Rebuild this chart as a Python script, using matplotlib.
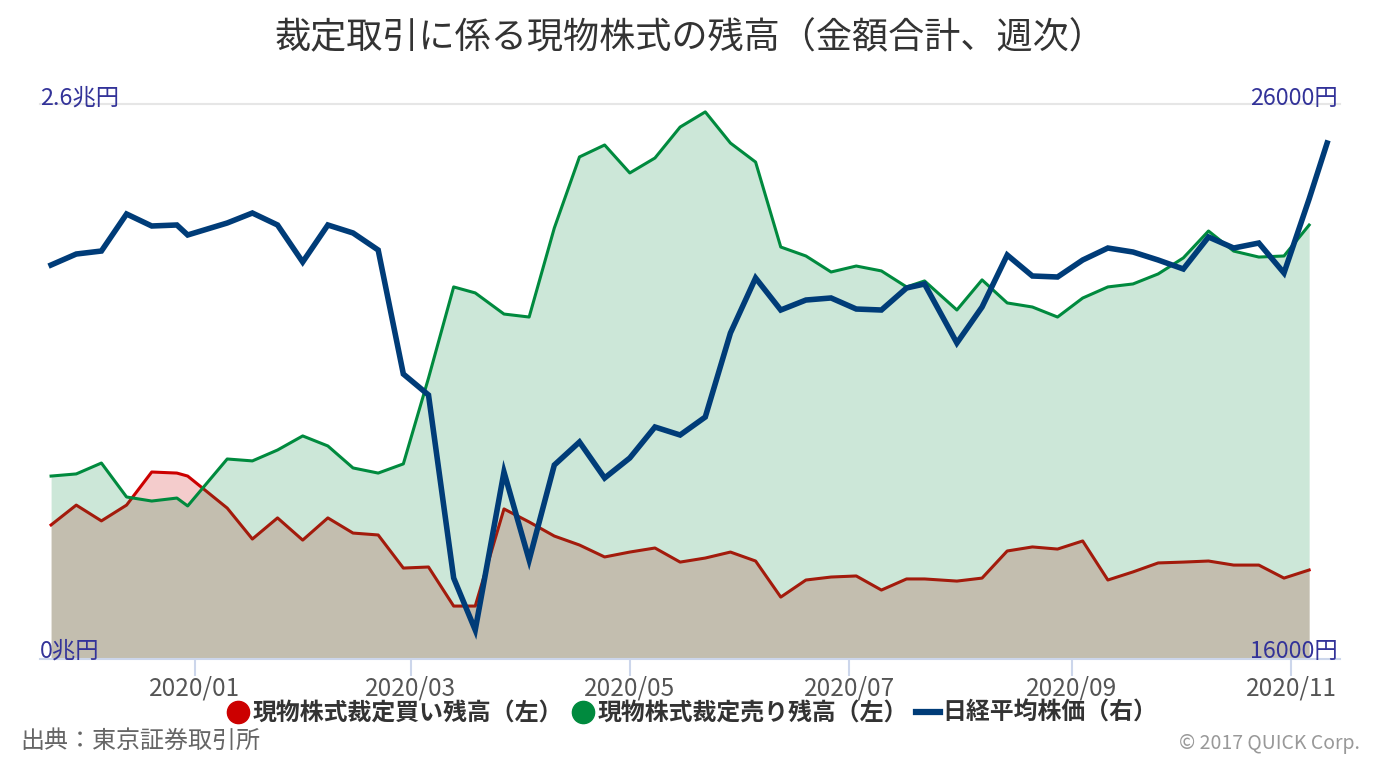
import numpy as np
import pandas as pd
import matplotlib
matplotlib.use('Agg')
import matplotlib.pyplot as plt
import matplotlib.dates as mdates
from matplotlib.lines import Line2D
from matplotlib.transforms import offset_copy

plt.rcParams['font.family'] = ['Noto Sans CJK JP', 'DejaVu Sans']

# weekly dates (last trading day of each week)
dates = pd.to_datetime([
    '2019-11-22', '2019-11-29', '2019-12-06', '2019-12-13', '2019-12-20', '2019-12-27', '2019-12-30',
    '2020-01-10', '2020-01-17', '2020-01-24', '2020-01-31',
    '2020-02-07', '2020-02-14', '2020-02-21', '2020-02-28',
    '2020-03-06', '2020-03-13', '2020-03-19', '2020-03-27',
    '2020-04-03', '2020-04-10', '2020-04-17', '2020-04-24',
    '2020-05-01', '2020-05-08', '2020-05-15', '2020-05-22', '2020-05-29',
    '2020-06-05', '2020-06-12', '2020-06-19', '2020-06-26',
    '2020-07-03', '2020-07-10', '2020-07-17', '2020-07-22', '2020-07-31',
    '2020-08-07', '2020-08-14', '2020-08-21', '2020-08-28',
    '2020-09-04', '2020-09-11', '2020-09-18', '2020-09-25',
    '2020-10-02', '2020-10-09', '2020-10-16', '2020-10-23', '2020-10-30',
    '2020-11-06'])
nikkei_dates = dates.append(pd.to_datetime(['2020-11-11']))

# 現物株式裁定買い残高 (兆円)
buy = [0.628, 0.721, 0.647, 0.721, 0.876, 0.871, 0.857,
       0.707, 0.562, 0.661, 0.557,
       0.661, 0.590, 0.581, 0.426,
       0.431, 0.248, 0.248, 0.703,
       0.642, 0.576, 0.534, 0.478,
       0.501, 0.520, 0.454, 0.473, 0.501,
       0.459, 0.290, 0.370, 0.384,
       0.389, 0.323, 0.375, 0.375, 0.365,
       0.379, 0.506, 0.525, 0.515,
       0.553, 0.370, 0.408, 0.450,
       0.454, 0.459, 0.440, 0.440, 0.379,
       0.417]

# 現物株式裁定売り残高 (兆円)
sell = [0.857, 0.867, 0.918, 0.759, 0.740, 0.754, 0.717,
        0.937, 0.928, 0.979, 1.045,
        0.998, 0.895, 0.871, 0.914,
        1.316, 1.743, 1.715, 1.616,
        1.602, 2.019, 2.352, 2.408,
        2.277, 2.347, 2.492, 2.563, 2.417,
        2.328, 1.930, 1.888, 1.813,
        1.841, 1.818, 1.743, 1.771, 1.635,
        1.776, 1.668, 1.649, 1.602,
        1.691, 1.743, 1.757, 1.804,
        1.879, 2.005, 1.911, 1.883, 1.888,
        2.033]

# 日経平均株価 (円)
nikkei = [23099, 23297, 23351, 24018, 23802, 23820, 23640,
          23856, 24036, 23820, 23153,
          23820, 23676, 23369, 21135,
          20757, 17459, 16523, 19369,
          17784, 19495, 19910, 19261,
          19622, 20180, 20036, 20360, 21874,
          22865, 22288, 22468, 22505,
          22306, 22288, 22685, 22757, 21694,
          22342, 23279, 22901, 22883,
          23189, 23405, 23333, 23189,
          23027, 23604, 23405, 23495, 22955,
          24290, 25297]

RED = '#cc0000'
GREEN = '#008a3e'
NAVY = '#003c78'
LABEL = '#333399'

fig = plt.figure(figsize=(13.8, 7.6), dpi=100)
ax = fig.add_axes([40/1380, 1-659/760, 1300/1380, 555/760])
ax2 = ax.twinx()

# buy series first, sell area drawn over it
ax.fill_between(dates, 0, buy, color=RED, alpha=0.2, lw=0, zorder=1)
ax.plot(dates, buy, color=RED, lw=2.2, zorder=2)
ax.fill_between(dates, 0, sell, color=GREEN, alpha=0.2, lw=0, zorder=3)
ax.plot(dates, sell, color=GREEN, lw=2.2, zorder=4)
ax2.plot(nikkei_dates, nikkei, color=NAVY, lw=4, solid_joinstyle='miter', zorder=5)

ax.set_xlim(pd.Timestamp('2019-11-18 22:00'), pd.Timestamp('2020-11-14 14:00'))
ax.set_ylim(0, 2.6)
ax2.set_ylim(16000, 26000)

ax.set_yticks([])
ax2.set_yticks([])
for a in (ax, ax2):
    for s in ('left', 'right', 'top'):
        a.spines[s].set_visible(False)
ax2.spines['bottom'].set_visible(False)
ax.spines['bottom'].set_color('#ccd6eb')
ax.spines['bottom'].set_linewidth(1.5)
ax.spines['bottom'].set_zorder(6)
ax.axhline(2.6, color='#e6e6e6', lw=1.5, zorder=0, clip_on=False)

ax.xaxis.set_major_locator(mdates.MonthLocator(bymonth=[1, 3, 5, 7, 9, 11]))
ax.xaxis.set_major_formatter(mdates.DateFormatter('%Y/%m'))
ax.tick_params(axis='x', length=12, width=1.5, color='#ccd6eb', labelsize=17.5,
               labelcolor='#555555', pad=0)

# axis labels drawn inside the plot
tr = ax.get_yaxis_transform()
ax.text(0, 2.6, '2.6兆円', transform=offset_copy(tr, fig, x=0, y=-1, units='dots'),
        ha='left', va='baseline', fontsize=16.8, color=LABEL, zorder=10)
ax.text(0, 0, '0兆円', transform=offset_copy(tr, fig, x=0, y=1, units='dots'),
        ha='left', va='baseline', fontsize=16.8, color=LABEL, zorder=10)
ax.text(1, 2.6, '26000円', transform=offset_copy(tr, fig, x=-2, y=-1, units='dots'),
        ha='right', va='baseline', fontsize=16.8, color=LABEL, zorder=10)
ax.text(1, 0, '16000円', transform=offset_copy(tr, fig, x=-2, y=1, units='dots'),
        ha='right', va='baseline', fontsize=16.8, color=LABEL, zorder=10)

fig.text(0.5, 1-38/760, '裁定取引に係る現物株式の残高（金額合計、週次）',
         ha='center', va='center', fontsize=26, color='#333333')

handles = [
    Line2D([], [], marker='o', color=RED, linestyle='none', markersize=16),
    Line2D([], [], marker='o', color=GREEN, linestyle='none', markersize=16),
    Line2D([], [], color=NAVY, lw=4.5),
]
labels = ['現物株式裁定買い残高（左）', '現物株式裁定売り残高（左）', '日経平均株価（右）']
fig.legend(handles, labels, loc='center', bbox_to_anchor=(692/1380, 1-713/760), ncol=3,
           frameon=False, handlelength=1.0, handletextpad=0.1, columnspacing=0.35,
           prop={'size': 17.2, 'weight': 'bold'}, labelcolor='#333333')

fig.text(20/1380, 1-741/760, '出典：東京証券取引所', ha='left', va='center',
         fontsize=17.3, color='#666666')
fig.text(1360/1380, 1-744/760, '© 2017 QUICK Corp.', ha='right', va='center',
         fontsize=14, color='#999999')

fig.savefig('out.png', dpi=100)
